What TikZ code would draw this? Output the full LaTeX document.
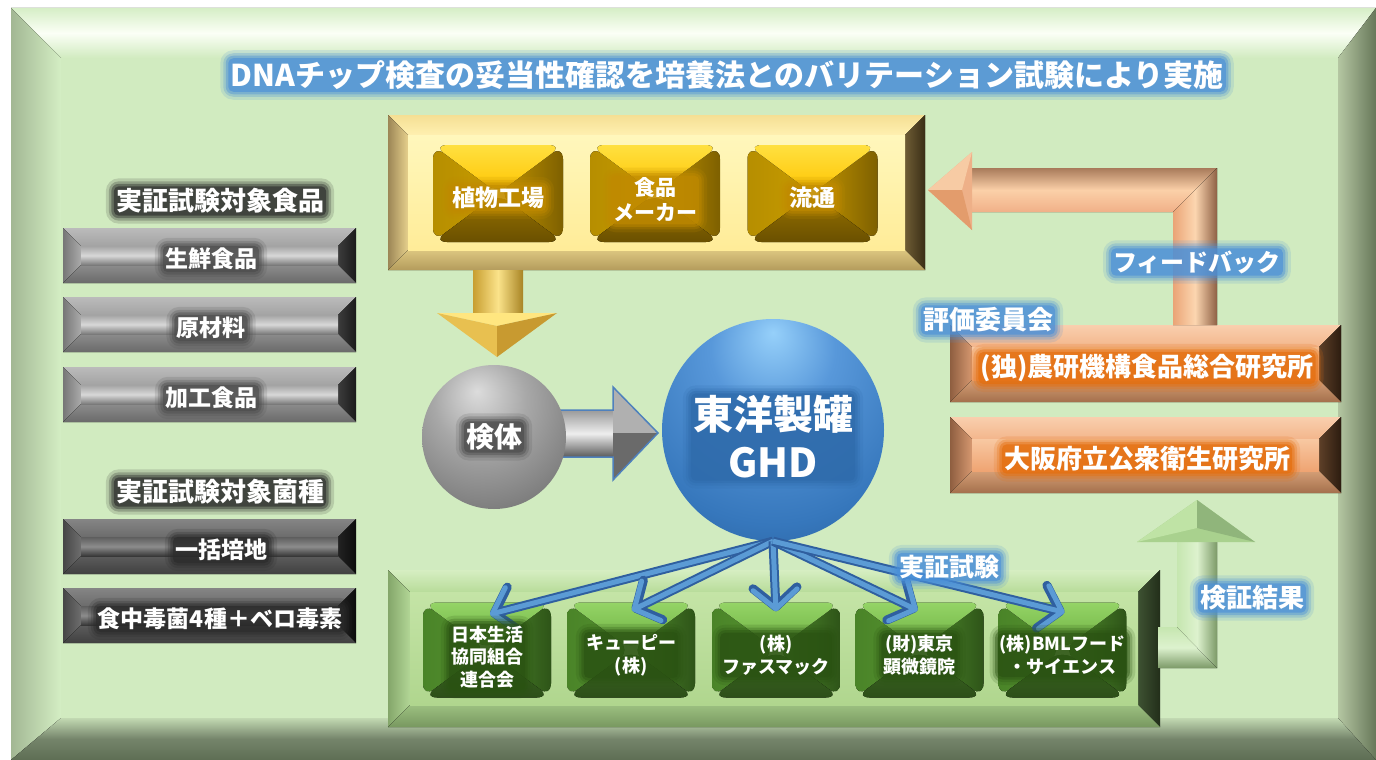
\documentclass[tikz,border=0pt]{standalone}
\usepackage{fontspec}
\newfontfamily\jp{Noto Sans CJK JP}
\usetikzlibrary{arrows.meta,calc}
\pgfdeclarelayer{glow}\pgfdeclarelayer{front}
\pgfsetlayers{main,glow,front}
\newcommand\fs[2]{\jp\bfseries\fontsize{#1}{#2}\selectfont}
% frame
\definecolor{frTa}{HTML}{D6EEC6}\definecolor{frTm}{HTML}{FBFFF6}\definecolor{frFace}{HTML}{D1EBC0}
\definecolor{frLa}{HTML}{A2B793}\definecolor{frLb}{HTML}{D4EEC4}
\definecolor{frRa}{HTML}{B4C6A2}\definecolor{frRb}{HTML}{677759}
\definecolor{frBa}{HTML}{C2D9B2}\definecolor{frBm}{HTML}{74846A}\definecolor{frBb}{HTML}{5E6E54}
% light grey boxes
\definecolor{gyTa}{HTML}{BBBBBB}\definecolor{gyTb}{HTML}{A3A3A3}
\definecolor{gyLa}{HTML}{767676}\definecolor{gyLb}{HTML}{ABABAB}
\definecolor{gyRa}{HTML}{3C3C3C}\definecolor{gyRb}{HTML}{1A1A1A}
\definecolor{gyBa}{HTML}{8C8C8C}\definecolor{gyBb}{HTML}{6A6A6A}
\definecolor{gyFa}{HTML}{A4A4A4}\definecolor{gyFm}{HTML}{D8D8D8}\definecolor{gyFb}{HTML}{7A7A7A}
% dark grey boxes
\definecolor{gdTa}{HTML}{858585}\definecolor{gdTb}{HTML}{6C6C6C}
\definecolor{gdLa}{HTML}{464646}\definecolor{gdLb}{HTML}{6E6E6E}
\definecolor{gdRa}{HTML}{222222}\definecolor{gdRb}{HTML}{0C0C0C}
\definecolor{gdBa}{HTML}{5C5C5C}\definecolor{gdBb}{HTML}{404040}
\definecolor{gdFa}{HTML}{5E5E5E}\definecolor{gdFm}{HTML}{8C8C8C}\definecolor{gdFb}{HTML}{383838}
% yellow outer
\definecolor{yoTa}{HTML}{F5DF94}\definecolor{yoTb}{HTML}{FFF0B0}
\definecolor{yoLa}{HTML}{9C8656}\definecolor{yoLb}{HTML}{E6D08C}
\definecolor{yoRa}{HTML}{6E5C34}\definecolor{yoRb}{HTML}{3A2E16}
\definecolor{yoBa}{HTML}{DCC680}\definecolor{yoBb}{HTML}{B49C5C}
\definecolor{yoFa}{HTML}{FFF7BC}\definecolor{yoFb}{HTML}{FFEC98}
% orange
\definecolor{orTa}{HTML}{F9CFAE}\definecolor{orTb}{HTML}{F3B68C}
\definecolor{orLa}{HTML}{8E5E40}\definecolor{orLb}{HTML}{D69870}
\definecolor{orRa}{HTML}{5E4028}\definecolor{orRb}{HTML}{2C1C10}
\definecolor{orBa}{HTML}{D49E76}\definecolor{orBb}{HTML}{A4704C}
\definecolor{orFa}{HTML}{F8C8A2}\definecolor{orFb}{HTML}{EFA472}
% green outer
\definecolor{grTa}{HTML}{D6EEC2}\definecolor{grTb}{HTML}{B8DC9A}
\definecolor{grLa}{HTML}{84A66A}\definecolor{grLb}{HTML}{B2D696}
\definecolor{grRa}{HTML}{3E5232}\definecolor{grRb}{HTML}{222E1A}
\definecolor{grBa}{HTML}{9CC080}\definecolor{grBb}{HTML}{789860}
\definecolor{grFa}{HTML}{C4E4A6}\definecolor{grFb}{HTML}{B0D68E}
% pillows
\definecolor{pyTa}{HTML}{FFE040}\definecolor{pyTb}{HTML}{FFC400}
\definecolor{pyLa}{HTML}{B68E00}\definecolor{pyLb}{HTML}{DAAA00}
\definecolor{pyRa}{HTML}{C49600}\definecolor{pyRb}{HTML}{7E6000}
\definecolor{pyBa}{HTML}{9A7400}\definecolor{pyBb}{HTML}{6A5000}
\definecolor{pgTa}{HTML}{94D466}\definecolor{pgTb}{HTML}{6CAE40}
\definecolor{pgLa}{HTML}{4A8428}\definecolor{pgLb}{HTML}{62A03A}
\definecolor{pgRa}{HTML}{52902E}\definecolor{pgRb}{HTML}{2E5418}
\definecolor{pgBa}{HTML}{427026}\definecolor{pgBb}{HTML}{2C4E18}
% arrows
\definecolor{fbVa}{HTML}{EAA476}\definecolor{fbVm}{HTML}{FCD6B0}\definecolor{fbVb}{HTML}{8E6044}
\definecolor{fbHa}{HTML}{A87A5A}\definecolor{fbHm}{HTML}{FBD0A8}\definecolor{fbHb}{HTML}{F0B088}
\definecolor{fbH1}{HTML}{F7CBA4}\definecolor{fbH2}{HTML}{E39C6C}\definecolor{fbH3}{HTML}{EEB088}
\definecolor{vaL}{HTML}{C6E6B0}\definecolor{vaM}{HTML}{DDF2CE}\definecolor{vaR}{HTML}{7C9A68}
\definecolor{vaH1}{HTML}{BFE3A5}\definecolor{vaH2}{HTML}{90B57B}\definecolor{vaH3}{HTML}{A9D18E}
\definecolor{yaL}{HTML}{C89E30}\definecolor{yaM}{HTML}{FBE38A}\definecolor{yaR}{HTML}{A88424}
\definecolor{yaH1}{HTML}{FFE680}\definecolor{yaH2}{HTML}{E8C050}\definecolor{yaH3}{HTML}{C89A30}
\definecolor{gaT}{HTML}{9A9A9A}\definecolor{gaM}{HTML}{EEEEEE}\definecolor{gaB}{HTML}{5A5A5A}
\definecolor{gaHu}{HTML}{B0B0B0}\definecolor{gaHl}{HTML}{6A6A6A}\definecolor{gaO}{HTML}{4F81BD}
\definecolor{baD}{HTML}{2F5F9F}\definecolor{baL}{HTML}{5B9BD5}
% glows
\definecolor{glowBlue}{HTML}{4A8FD8}\definecolor{glowDark}{HTML}{2A2A2A}
\definecolor{glowGray}{HTML}{4A4A4A}\definecolor{glowGold}{HTML}{C08A00}
\definecolor{glowGreen}{HTML}{2A5212}\definecolor{glowOrange}{HTML}{E46C0A}
\definecolor{glowGHD}{HTML}{2E6AAA}
% spheres
\definecolor{gsA}{HTML}{DCDCDC}\definecolor{gsB}{HTML}{A8A8A8}\definecolor{gsC}{HTML}{7A7A7A}\definecolor{gsD}{HTML}{3E3E3E}
\definecolor{sA}{HTML}{96D0FA}\definecolor{sB}{HTML}{5898DA}\definecolor{sC}{HTML}{3677BC}\definecolor{sD}{HTML}{1F4A7C}
\pgfdeclareradialshading{graysphere}{\pgfpoint{-6bp}{16bp}}{color(0bp)=(gsA); color(16bp)=(gsB); color(36bp)=(gsC); color(54bp)=(gsD); color(80bp)=(gsD)}
\pgfdeclareradialshading{bluesphere}{\pgfpoint{0bp}{22bp}}{color(0bp)=(sA); color(14bp)=(sB); color(34bp)=(sC); color(56bp)=(sD); color(80bp)=(sD)}

\newcommand\bevelfacets[2]{%
  \coordinate (bNW) at (path picture bounding box.north west);
  \coordinate (bNE) at (path picture bounding box.north east);
  \coordinate (bSW) at (path picture bounding box.south west);
  \coordinate (bSE) at (path picture bounding box.south east);
  \coordinate (iNW) at ($(bNW)+(#1,#1)$);
  \coordinate (iNE) at ($(bNE)+(-#1,#1)$);
  \coordinate (iSW) at ($(bSW)+(#1,-#1)$);
  \coordinate (iSE) at ($(bSE)+(-#1,-#1)$);
  \fill[#2T] (bNW) -- (bNE) -- (iNE) -- (iNW) -- cycle;
  \fill[#2L] (bNW) -- (iNW) -- (iSW) -- (bSW) -- cycle;
  \fill[#2R] (bNE) -- (bSE) -- (iSE) -- (iNE) -- cycle;
  \fill[#2B] (bSW) -- (iSW) -- (iSE) -- (bSE) -- cycle;
  \fill[#2F] (iNW) rectangle (iSE);
}
\newcommand\pillowfacets[1]{%
  \fill[#1L] (path picture bounding box.north west) -- (path picture bounding box.center) -- (path picture bounding box.south west) -- cycle;
  \fill[#1R] (path picture bounding box.north east) -- (path picture bounding box.center) -- (path picture bounding box.south east) -- cycle;
  \fill[#1T] (path picture bounding box.north west) -- (path picture bounding box.north east) -- (path picture bounding box.center) -- cycle;
  \fill[#1B] (path picture bounding box.south west) -- (path picture bounding box.south east) -- (path picture bounding box.center) -- cycle;
}
% text with a soft halo: the text goes on the front layer, the halo below it
\newcommand\glowtext[5]{%
  \begin{pgfonlayer}{front}\node[lbl,text=white,font=#4] (#1) at (#2) {#5};\end{pgfonlayer}
  \begin{pgfonlayer}{glow}
  \foreach \e/\o in {10/.16,7/.26,4.5/.42,2/.62}{%
    \fill[#3, opacity=\o, rounded corners=\e pt+3pt] ($(#1.south west)+(-\e,\e)$) rectangle ($(#1.north east)+(\e,-\e)$);}
  \end{pgfonlayer}
}
\tikzset{
  lbl/.style={inner sep=0pt, align=center},
  gyT/.style={top color=gyTa,bottom color=gyTb}, gyL/.style={left color=gyLa,right color=gyLb},
  gyR/.style={left color=gyRa,right color=gyRb}, gyB/.style={top color=gyBa,bottom color=gyBb},
  gyF/.style={top color=gyFa,bottom color=gyFb,middle color=gyFm},
  gdT/.style={top color=gdTa,bottom color=gdTb}, gdL/.style={left color=gdLa,right color=gdLb},
  gdR/.style={left color=gdRa,right color=gdRb}, gdB/.style={top color=gdBa,bottom color=gdBb},
  gdF/.style={top color=gdFa,bottom color=gdFb,middle color=gdFm},
  yoT/.style={top color=yoTa,bottom color=yoTb}, yoL/.style={left color=yoLa,right color=yoLb},
  yoR/.style={left color=yoRa,right color=yoRb}, yoB/.style={top color=yoBa,bottom color=yoBb},
  yoF/.style={top color=yoFa,bottom color=yoFb},
  orT/.style={top color=orTa,bottom color=orTb}, orL/.style={left color=orLa,right color=orLb},
  orR/.style={left color=orRa,right color=orRb}, orB/.style={top color=orBa,bottom color=orBb},
  orF/.style={top color=orFa,bottom color=orFb},
  grT/.style={top color=grTa,bottom color=grTb}, grL/.style={left color=grLa,right color=grLb},
  grR/.style={left color=grRa,right color=grRb}, grB/.style={top color=grBa,bottom color=grBb},
  grF/.style={top color=grFa,bottom color=grFb},
  pyT/.style={top color=pyTa,bottom color=pyTb}, pyL/.style={left color=pyLa,right color=pyLb},
  pyR/.style={left color=pyRa,right color=pyRb}, pyB/.style={top color=pyBa,bottom color=pyBb},
  pgT/.style={top color=pgTa,bottom color=pgTb}, pgL/.style={left color=pgLa,right color=pgLb},
  pgR/.style={left color=pgRa,right color=pgRb}, pgB/.style={top color=pgBa,bottom color=pgBb},
  bevelbox/.style n args={4}{rectangle, inner sep=0pt, minimum width=#1, minimum height=#2, path picture={\bevelfacets{#3}{#4}}},
  pillow/.style n args={3}{rectangle, rounded corners=14pt, inner sep=0pt, minimum width=#1, minimum height=#2, path picture={\pillowfacets{#3}}},
  barD/.style={draw=baD, line width=9pt, -{Straight Barb[length=19pt,width=44pt,round]}},
  barL/.style={draw=baL, line width=5pt, -{Straight Barb[length=19pt,width=44pt,round]}},
}

\begin{document}
\begin{tikzpicture}[x=1pt,y=-1pt]
\useasboundingbox (0,0) rectangle (1376,760);
\fill[white] (0,0) rectangle (1376,760);
% ---- outer frame ----
\fill[top color=frTa, bottom color=frFace, middle color=frTm] (11,8) -- (1376,8) -- (1338,58) -- (61,58) -- cycle;
\fill[left color=frLa, right color=frLb] (11,8) -- (61,58) -- (61,718) -- (11,760) -- cycle;
\fill[left color=frRa, right color=frRb] (1376,8) -- (1376,760) -- (1338,718) -- (1338,58) -- cycle;
\fill[top color=frBa, bottom color=frBb, middle color=frBm] (11,760) -- (61,718) -- (1338,718) -- (1376,760) -- cycle;
\fill[frFace] (61,58) rectangle (1338,718);

% ---- title ----
\glowtext{title}{727,75}{glowBlue}{\fs{30}{36}}{DNAチップ検査の妥当性確認を培養法とのバリテーション試験により実施}

% ---- left column ----
\glowtext{lab1}{220,201}{glowDark}{\fs{26}{30}}{実証試験対象食品}
\node[bevelbox={293pt}{55pt}{18}{gy}] (f1) at (209.5,255.5) {};
\node[bevelbox={293pt}{55pt}{18}{gy}] (f2) at (209.5,324.5) {};
\node[bevelbox={293pt}{55pt}{18}{gy}] (f3) at (209.5,394.5) {};
\glowtext{t1}{211,259}{glowGray}{\fs{23}{27}}{生鮮食品}
\glowtext{t2}{211,328}{glowGray}{\fs{23}{27}}{原材料}
\glowtext{t3}{211,398}{glowGray}{\fs{23}{27}}{加工食品}
\glowtext{lab2}{220,492}{glowDark}{\fs{26}{30}}{実証試験対象菌種}
\node[bevelbox={293pt}{55pt}{18}{gd}] (m1) at (209.5,546.5) {};
\node[bevelbox={293pt}{55pt}{18}{gd}] (m2) at (209.5,615.5) {};
\glowtext{t4}{221,550}{glowDark}{\fs{23}{27}}{一括培地}
\glowtext{t5}{220,619}{glowDark}{\fs{23}{27}}{食中毒菌4種＋ベロ毒素}

% ---- top yellow box ----
\node[bevelbox={537pt}{155pt}{20}{yo}] (ybox) at (656.5,192.5) {};
\node[pillow={130pt}{97pt}{py}] (y1) at (498,193.5) {};
\node[pillow={130pt}{97pt}{py}] (y2) at (655,193.5) {};
\node[pillow={130pt}{97pt}{py}] (y3) at (812.5,193.5) {};
\glowtext{ty1}{498,198}{glowGold}{\fs{23}{27}}{植物工場}
\glowtext{ty2}{655,200}{glowGold}{\fs{21}{25}}{食品\\メーカー}
\glowtext{ty3}{812,198}{glowGold}{\fs{23}{27}}{流通}

% ---- yellow down arrow ----
\fill[left color=yaL, right color=yaR, middle color=yaM] (473,270) -- (523,270) -- (523,314) -- (473,314) -- cycle;
\fill[yaH1] (437,313) -- (557,313) -- (497,326) -- cycle;
\fill[yaH2] (437,313) -- (497,326) -- (497,357) -- cycle;
\fill[yaH3] (557,313) -- (497,326) -- (497,357) -- cycle;

% ---- grey arrow and spheres ----
\fill[top color=gaT, bottom color=gaB, middle color=gaM] (545,410) -- (614,410) -- (614,457) -- (545,457) -- cycle;
\fill[gaHu] (613,387) -- (658,433) -- (613,433) -- cycle;
\fill[gaHl] (613,433) -- (658,433) -- (613,480) -- cycle;
\draw[gaO, line width=1.5pt, line join=miter] (555,410) -- (613,410) -- (613,387) -- (658,433) -- (613,480) -- (613,457) -- (555,457);
\node[circle, inner sep=0pt, minimum size=144pt, shading=graysphere] (kentai) at (494,437) {};
\glowtext{tk}{494,437}{glowGray}{\fs{28}{32}}{検体}
\node[circle, inner sep=0pt, minimum size=222pt, shading=bluesphere] (ghd) at (773,430) {};
\glowtext{tghd}{773,437}{glowGHD}{\fs{40}{48}}{東洋製罐\\GHD}

% ---- bottom green box ----
\node[bevelbox={772pt}{157pt}{22}{gr}] (gbox) at (774,648.5) {};
\node[pillow={128pt}{95pt}{pg}] (g1) at (487,650) {};
\node[pillow={128pt}{95pt}{pg}] (g2) at (631,650) {};
\node[pillow={128pt}{95pt}{pg}] (g3) at (776,650) {};
\node[pillow={128pt}{95pt}{pg}] (g4) at (919.5,650) {};
\node[pillow={128pt}{95pt}{pg}] (g5) at (1062.5,650) {};
\glowtext{tg1}{487,657}{glowGreen}{\fs{18}{22.5}}{日本生活\\協同組合\\連合会}
\glowtext{tg2}{631,655}{glowGreen}{\fs{18}{23}}{キューピー\\(株)}
\glowtext{tg3}{776,655}{glowGreen}{\fs{18}{23}}{(株)\\ファスマック}
\glowtext{tg4}{919.5,655}{glowGreen}{\fs{18}{23}}{(財)東京\\顕微鏡院}
\glowtext{tg5}{1062.5,655}{glowGreen}{\fs{18}{23}}{(株)BMLフード\\・サイエンス}

% ---- blue arrows ----
\foreach \t/\dx/\dy in {g1/3/12, g2/1/8, g3/0/9, g4/-2/8, g5/2/10}{
  \draw[barD] (ghd.south) -- ($(\t.north)+(\dx,\dy)$);
  \draw[barL] (ghd.south) -- ($(\t.north)+(\dx,\dy)$);
}
\glowtext{tj}{949,567}{glowBlue}{\fs{25}{29}}{実証試験}

% ---- orange boxes ----
\node[bevelbox={391pt}{77pt}{22}{or}] (o1) at (1145.5,363.5) {};
\node[bevelbox={391pt}{76pt}{22}{or}] (o2) at (1145.5,455) {};
\glowtext{to1}{1147,368}{glowOrange}{\fs{26}{30}}{(独)農研機構食品総合研究所}
\glowtext{to2}{1147,459}{glowOrange}{\fs{26}{30}}{大阪府立公衆衛生研究所}

% ---- feedback arrow ----
\fill[top color=fbHa, bottom color=fbHb, middle color=fbHm] (968,168) -- (1217,168) -- (1173,212) -- (968,212) -- cycle;
\fill[left color=fbVa, right color=fbVb, middle color=fbVm] (1217,168) -- (1217,325) -- (1173,325) -- (1173,212) -- cycle;
\fill[fbH3] (928,190) -- (972,152) -- (972,230) -- cycle;
\fill[fbH1] (928,190) -- (972,152) -- (962,190) -- cycle;
\fill[fbH2] (928,190) -- (972,230) -- (962,190) -- cycle;
\glowtext{tfb}{1197,262}{glowBlue}{\fs{24}{28}}{フィードバック}
\glowtext{tev}{988,320}{glowBlue}{\fs{26}{30}}{評価委員会}

% ---- verification arrow ----
\fill[top color=vaL, bottom color=vaR, middle color=vaM] (1158,627) -- (1177,627) -- (1217,668) -- (1158,668) -- cycle;
\fill[left color=vaL, right color=vaR, middle color=vaM] (1177,541) -- (1217,541) -- (1217,668) -- (1177,627) -- cycle;
\fill[vaH3] (1197,500) -- (1255,542) -- (1137,542) -- cycle;
\fill[vaH1] (1197,500) -- (1137,542) -- (1197,528) -- cycle;
\fill[vaH2] (1197,500) -- (1255,542) -- (1197,528) -- cycle;
\glowtext{tv}{1252,598}{glowBlue}{\fs{26}{30}}{検証結果}
\end{tikzpicture}
\end{document}
